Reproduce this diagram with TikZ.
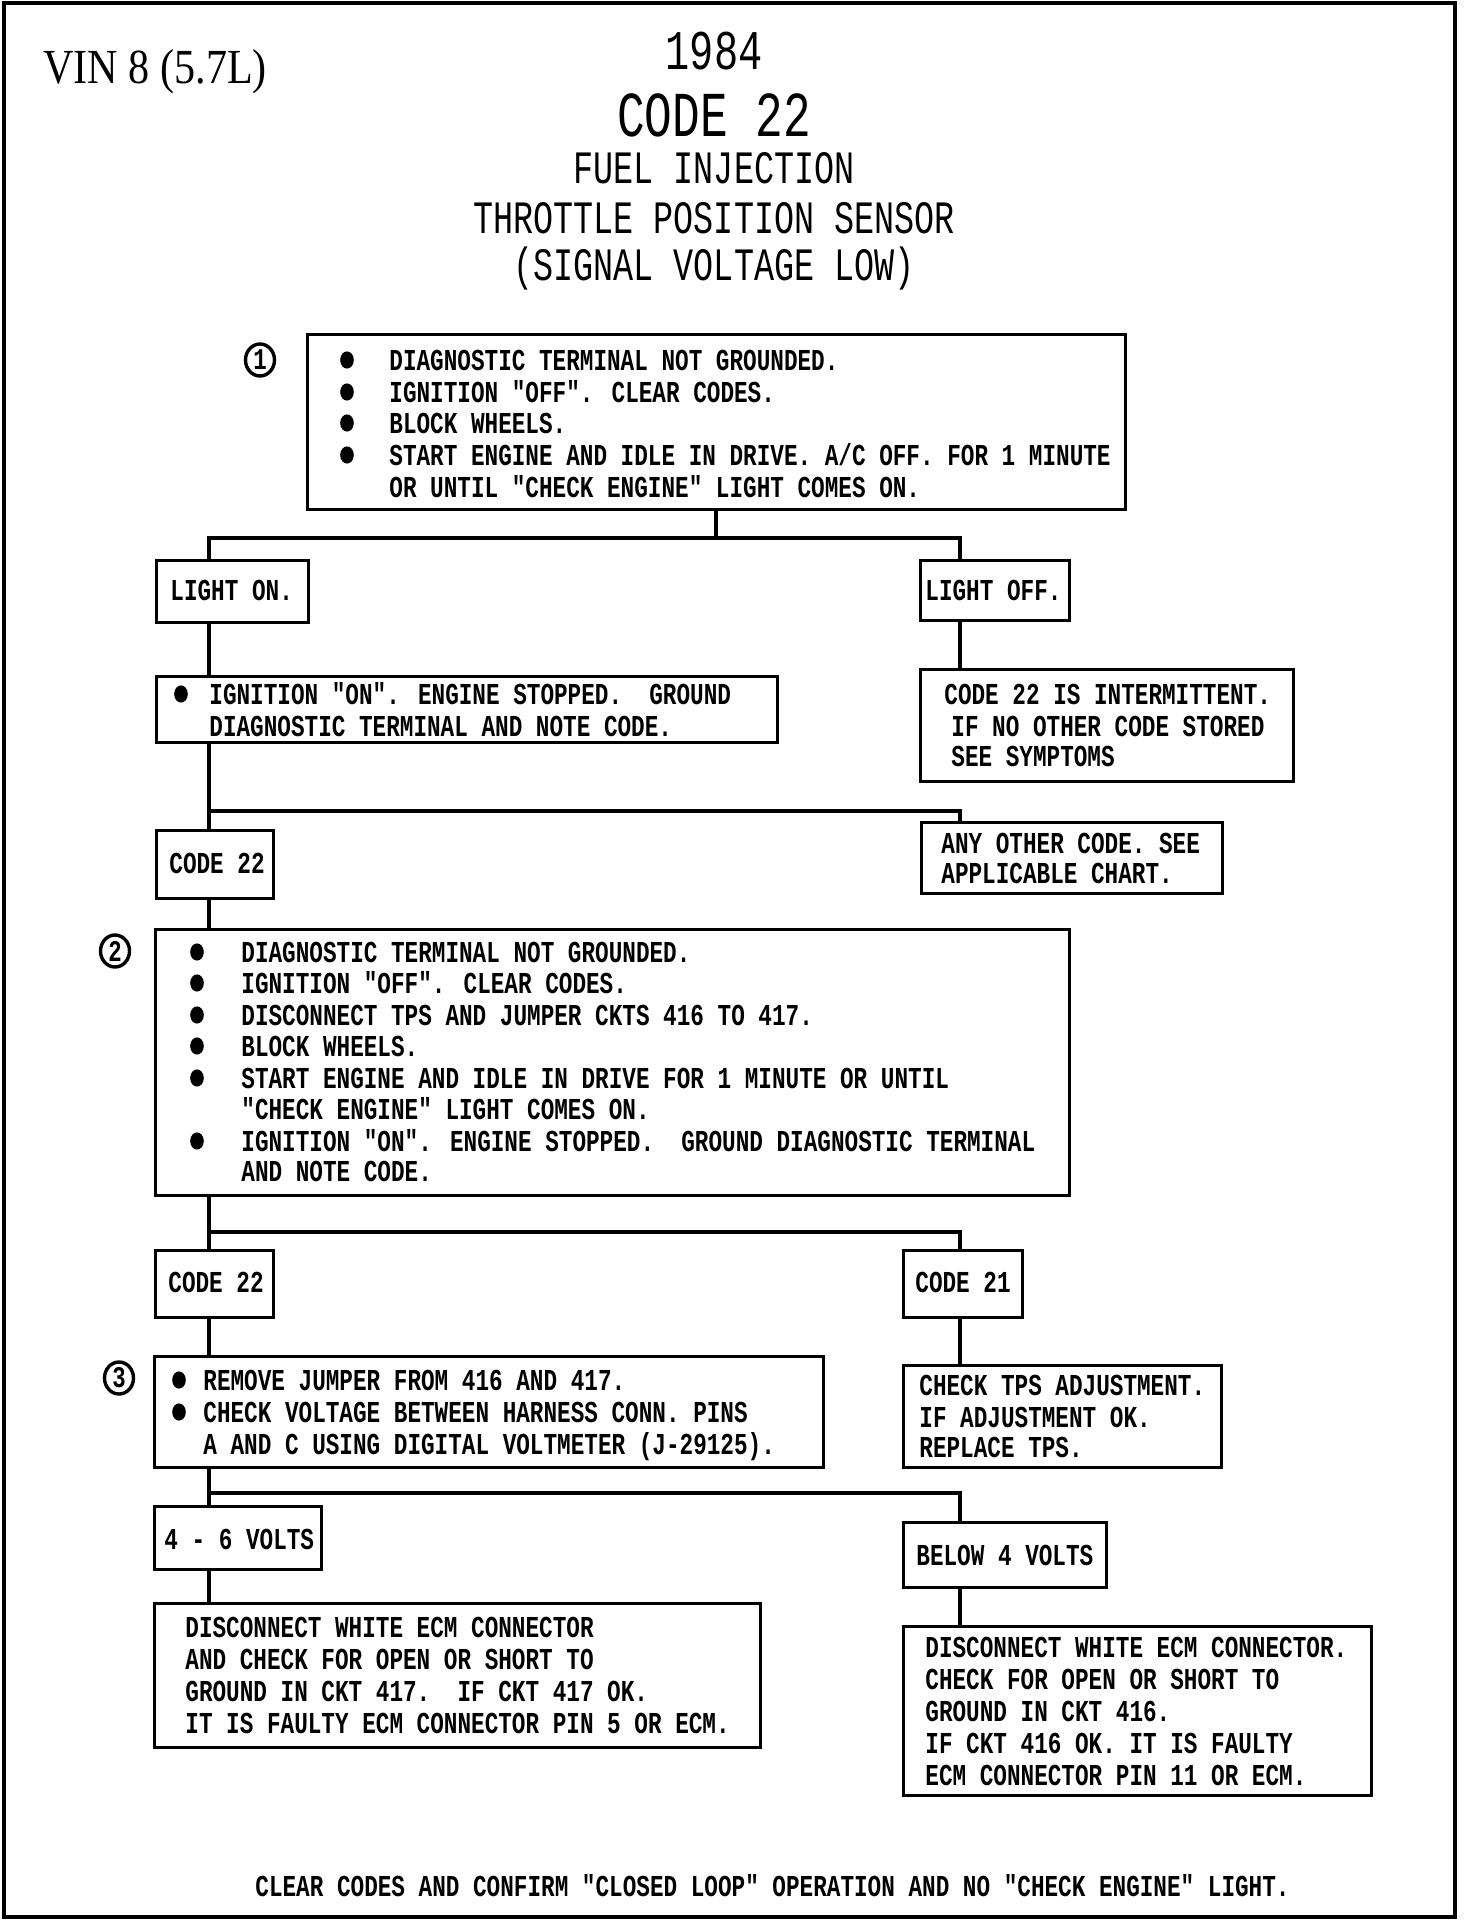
\documentclass[tikz,border=0pt]{standalone}
\usepackage{fontspec}
\usetikzlibrary{shapes.geometric,fit}
\newfontfamily\plotfont{Liberation Mono}[FakeStretch=0.746]
\newfontfamily\titlefont{Liberation Mono}[FakeStretch=0.72]
\newfontfamily\vinfont{Liberation Serif}[FakeStretch=0.86]
\tikzset{
  outerframe/.style={line width=1.7pt},
  box/.style={draw, line width=1.5pt, inner sep=0pt},
  conn/.style={line width=1.9pt},
  txt/.style={anchor=base west, inner sep=0pt, font=\plotfont\bfseries\fontsize{15.2}{16}\selectfont},
  ttl/.style={anchor=base, inner sep=0pt},
  circnum/.style={draw, ellipse, line width=1.7pt, minimum width=14.5pt, minimum height=16pt, inner sep=0pt, font=\plotfont\bfseries\fontsize{15}{16}\selectfont}
}
\newcommand\tl[4]{\node[txt] (#1) at (#2,#3) {#4};}
\newcommand\bul[2]{\fill (#1,#2) ellipse (3.4pt and 4.3pt);}
\begin{document}
\begin{tikzpicture}[x=0.5pt,y=-0.5pt]
\useasboundingbox (0,0) rectangle (1472,1932);
\draw[outerframe] (4,3) rectangle (1455,1917);

% titles
\node[anchor=base west, inner sep=0pt, font=\vinfont\fontsize{24.5}{26}\selectfont] (vin) at (43,84) {VIN 8 (5.7L)};
\node[ttl, font=\titlefont\fontsize{28}{30}\selectfont] (tyear) at (714,70) {1984};
\node[ttl, font=\titlefont\fontsize{32}{34}\selectfont] (tcode) at (714,136) {CODE 22};
\node[ttl, font=\titlefont\fontsize{23.2}{24}\selectfont] (tfuel) at (714,184) {FUEL INJECTION};
\node[ttl, font=\titlefont\fontsize{23.2}{24}\selectfont] (ttps) at (714,233) {THROTTLE POSITION SENSOR};
\node[ttl, font=\titlefont\fontsize{23.2}{24}\selectfont] (tsig) at (714,280) {(SIGNAL VOLTAGE LOW)};

% boxes
\node[box, fit={(307,334) (1125,509)}] (b1) {};
\node[box, fit={(156,560) (308,622)}] (lon) {};
\node[box, fit={(920,560) (1069,620)}] (loff) {};
\node[box, fit={(156,676) (777,742)}] (ign) {};
\node[box, fit={(920,669) (1293,781)}] (intm) {};
\node[box, fit={(156,830) (273,898)}] (c22a) {};
\node[box, fit={(921,822) (1222,893)}] (anyo) {};
\node[box, fit={(155,929) (1069,1195)}] (b2) {};
\node[box, fit={(155,1250) (273,1317)}] (c22b) {};
\node[box, fit={(903,1250) (1022,1317)}] (c21) {};
\node[box, fit={(154,1356) (823,1467)}] (b3) {};
\node[box, fit={(903,1365) (1221,1467)}] (tps) {};
\node[box, fit={(154,1506) (321,1569)}] (v46) {};
\node[box, fit={(903,1522) (1106,1587)}] (b4v) {};
\node[box, fit={(154,1603) (760,1747)}] (dl) {};
\node[box, fit={(903,1626) (1371,1795)}] (dr) {};

% circled numbers
\node[circnum] (n1) at (260,360) {1};
\node[circnum] (n2) at (115,951) {2};
\node[circnum] (n3) at (119,1378) {3};

% box 1
\bul{347}{360}\bul{347}{392}\bul{347}{423}\bul{347}{455}
\tl{a1}{389}{370}{DIAGNOSTIC TERMINAL NOT GROUNDED.}
\tl{a2}{389}{402}{IGNITION "OFF". CLEAR CODES.}
\tl{a3}{389}{433}{BLOCK WHEELS.}
\tl{a4}{389}{465}{START ENGINE AND IDLE IN DRIVE. A/C OFF. FOR 1 MINUTE}
\tl{a5}{389}{497}{OR UNTIL "CHECK ENGINE" LIGHT COMES ON.}

\tl{lont}{170}{600}{LIGHT ON.}
\tl{lofft}{925}{600}{LIGHT OFF.}

\bul{181}{694}
\tl{g1}{209}{704}{IGNITION "ON". ENGINE STOPPED.\ \ GROUND}
\tl{g2}{209}{736}{DIAGNOSTIC TERMINAL AND NOTE CODE.}

\tl{i1}{944}{704}{CODE 22 IS INTERMITTENT.}
\tl{i2}{951}{736}{IF NO OTHER CODE STORED}
\tl{i3}{951}{766}{SEE SYMPTOMS}

\tl{c22at}{169}{873}{CODE 22}
\tl{o1}{941}{853}{ANY OTHER CODE. SEE}
\tl{o2}{941}{883}{APPLICABLE CHART.}

% box 2
\bul{197}{952}\bul{197}{983}\bul{197}{1015}\bul{197}{1046}\bul{197}{1078}\bul{197}{1141}
\tl{d1}{241}{962}{DIAGNOSTIC TERMINAL NOT GROUNDED.}
\tl{d2}{241}{993}{IGNITION "OFF". CLEAR CODES.}
\tl{d3}{241}{1025}{DISCONNECT TPS AND JUMPER CKTS 416 TO 417.}
\tl{d4}{241}{1056}{BLOCK WHEELS.}
\tl{d5}{241}{1088}{START ENGINE AND IDLE IN DRIVE FOR 1 MINUTE OR UNTIL}
\tl{d6}{241}{1119}{"CHECK ENGINE" LIGHT COMES ON.}
\tl{d7}{241}{1151}{IGNITION "ON". ENGINE STOPPED.\ \ GROUND DIAGNOSTIC TERMINAL}
\tl{d8}{241}{1181}{AND NOTE CODE.}

\tl{c22bt}{168}{1292}{CODE 22}
\tl{c21t}{915}{1292}{CODE 21}

% box 3
\bul{179}{1380}\bul{179}{1412}
\tl{e1}{203}{1390}{REMOVE JUMPER FROM 416 AND 417.}
\tl{e2}{203}{1422}{CHECK VOLTAGE BETWEEN HARNESS CONN. PINS}
\tl{e3}{203}{1454}{A AND C USING DIGITAL VOLTMETER (J-29125).}

\tl{p1}{919}{1395}{CHECK TPS ADJUSTMENT.}
\tl{p2}{919}{1427}{IF ADJUSTMENT OK.}
\tl{p3}{919}{1457}{REPLACE TPS.}

\tl{v46t}{164}{1549}{4 - 6 VOLTS}
\tl{b4vt}{916}{1565}{BELOW 4 VOLTS}

\tl{f1}{185}{1637}{DISCONNECT WHITE ECM CONNECTOR}
\tl{f2}{185}{1669}{AND CHECK FOR OPEN OR SHORT TO}
\tl{f3}{185}{1701}{GROUND IN CKT 417.\ \ IF CKT 417 OK.}
\tl{f4}{185}{1733}{IT IS FAULTY ECM CONNECTOR PIN 5 OR ECM.}

\tl{h1}{925}{1657}{DISCONNECT WHITE ECM CONNECTOR.}
\tl{h2}{925}{1689}{CHECK FOR OPEN OR SHORT TO}
\tl{h3}{925}{1721}{GROUND IN CKT 416.}
\tl{h4}{925}{1753}{IF CKT 416 OK. IT IS FAULTY}
\tl{h5}{925}{1785}{ECM CONNECTOR PIN 11 OR ECM.}

\tl{foot}{255}{1896}{CLEAR CODES AND CONFIRM "CLOSED LOOP" OPERATION AND NO "CHECK ENGINE" LIGHT.}

% connectors
\coordinate (L) at (209,0);
\coordinate (R) at (960,0);
\coordinate (j1) at (716,538);
\coordinate (j2) at (209,811);
\coordinate (j3) at (209,1232);
\coordinate (j4) at (209,1493);
\draw[conn] (b1.south) -- (j1);
\draw[conn] (lon.north -| L) |- (j1) -| (loff.north -| R);
\draw[conn] (lon.south -| L) -- (ign.north -| L);
\draw[conn] (loff.south -| R) -- (intm.north -| R);
\draw[conn] (ign.south -| L) -- (c22a.north -| L);
\draw[conn] (j2) -| (anyo.north -| R);
\draw[conn] (c22a.south -| L) -- (b2.north -| L);
\draw[conn] (b2.south -| L) -- (c22b.north -| L);
\draw[conn] (j3) -| (c21.north -| R);
\draw[conn] (c22b.south -| L) -- (b3.north -| L);
\draw[conn] (c21.south -| R) -- (tps.north -| R);
\draw[conn] (b3.south -| L) -- (v46.north -| L);
\draw[conn] (j4) -| (b4v.north -| R);
\draw[conn] (v46.south -| L) -- (dl.north -| L);
\draw[conn] (b4v.south -| R) -- (dr.north -| R);
\end{tikzpicture}
\end{document}
